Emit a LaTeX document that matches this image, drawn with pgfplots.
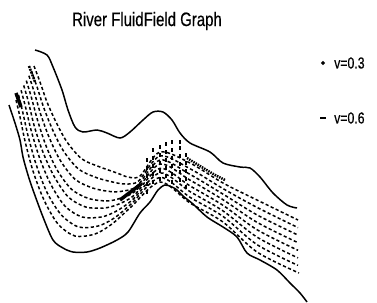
\documentclass[border=0pt]{standalone}
\usepackage{pgfplots}
\pgfplotsset{compat=1.18}
\usepackage{fontspec}
\setmainfont{Liberation Sans}[FakeStretch=0.77, FakeBold=0.4]
\begin{document}
\begin{tikzpicture}
\begin{axis}[
  scale only axis, width=377bp, height=302bp,
  xmin=0, xmax=377, ymin=0, ymax=302, y dir=reverse,
  axis lines=none, clip=false,
  every axis plot/.append style={black, line width=1.5pt},
]
\path (rel axis cs:0,0) rectangle (rel axis cs:1,1);
% banks
\addplot[smooth, tension=0.5] coordinates {(35,50)(47,55)(53,67)(62,90)(68,110)(75,127)(83,132)(97,130)(107,133)(120,138)(130,132)(143,120)(153,112)(163,112)(172,120)(180,133)(190,143)(210,152)(223,163)(240,167)(250,168)(260,177)(273,193)(287,205)(297,208)};
\addplot[smooth, tension=0.5] coordinates {(9,105)(15,123)(20,140)(23,157)(28,175)(33,190)(43,217)(53,240)(63,248)(73,252)(87,252)(100,248)(117,240)(128,232)(140,213)(150,202)(158,190)(165,185)(172,187)(177,190)(183,196)(193,204)(207,217)(223,227)(237,237)(247,253)(260,260)(277,270)(290,283)(300,293)(307,302)};
% streamlines
\pgfplotsset{stream/.style={smooth, tension=0.5, line width=1.5pt, dash pattern=on 3.2pt off 2.4pt}}
\addplot[stream] coordinates {(34,66)(40,82)(47,102)(56,122)(67,142)(82,159)(100,167)(117,173)(128,177)(140,176)(160,152)(190,163)(223,183)(257,200)(298,220)};
\addplot[stream] coordinates {(31.4,70.9)(37.1,87.1)(43.9,108.1)(52.7,130)(63.7,151.3)(78.6,169.1)(96.4,177.6)(113.9,182.3)(125.7,184)(138.6,181)(160,156)(190,168.7)(223,188.6)(257,207.4)(298,227.6)};
\addplot[stream] coordinates {(28.9,75.7)(34.3,92.3)(40.7,114.3)(49.4,138)(60.4,160.6)(75.1,179.3)(92.9,188.1)(110.7,191.6)(123.4,191)(137.1,186)(160,160)(190,174.4)(223,194.1)(257,214.9)(298,235.1)};
\addplot[stream] coordinates {(26.3,80.6)(31.4,97.4)(37.6,120.4)(46.1,146)(57.1,169.9)(71.7,189.4)(89.3,198.7)(107.6,200.9)(121.1,198)(135.7,190.9)(160,164)(190,180.1)(223,199.7)(257,222.3)(298,242.7)};
\addplot[stream] coordinates {(23.7,85.4)(28.6,102.6)(34.4,126.6)(42.9,152)(53.9,176)(68.3,197)(85.7,207)(104.4,208)(118.9,204)(134.3,195.1)(160,168.3)(190,185.9)(223,205.3)(257,229.7)(298,250.3)};
\addplot[stream] coordinates {(21.1,90.3)(25.7,107.7)(31.3,131)(39.6,158)(50.6,184)(64.9,206)(82.1,217)(101.3,217)(116.6,211)(132.9,199.4)(160,172.9)(190,191.6)(223,210.9)(257,237.1)(298,257.9)};
\addplot[stream] coordinates {(18.6,95.1)(22.9,112.9)(28.1,136)(36.3,165)(47.3,193)(61.4,215)(78.6,227)(98.1,226)(114.3,218)(131.4,203.7)(160,177.4)(190,197.3)(223,216.4)(257,244.6)(298,265.4)};
\addplot[stream] coordinates {(16,100)(20,117)(25,141)(33,171)(44,200)(58,224)(75,236)(95,234)(112,224)(130,208)(160,182)(190,203)(223,222)(257,252)(299,273)};
% vertical dashes zone
\addplot[only marks, mark=|, mark size=1.8pt, mark options={line width=1.4pt}] coordinates {
(147,160)(147,168)(147,176)(147,184)(147,192)
(153,150)(153,158)(153,166)(153,174)(153,182)
(160,147)(160,155)(160,163)(160,171)(160,179)
(166,144)(166,152)(166,160)(166,168)(166,176)
(172,142)(172,150)(172,158)(172,166)(172,174)(172,182)
(180,142)(180,148)(180,156)(180,164)(180,172)(180,180)
(186,155)(186,163)(186,171)(186,179)(186,187)};
% dense clusters
\addplot[line width=3.5pt] coordinates {(16,93)(21,107)};
\addplot[line width=2.5pt, dash pattern=on 2pt off 1pt] coordinates {(29,66)(35,82)};
\addplot[line width=3.5pt] coordinates {(120,200)(141,184)};
\addplot[line width=2.5pt, dash pattern=on 1.5pt off 1pt] coordinates {(187,158)(200,166)(215,175)(225,180)};
% legend
\addplot[only marks, mark=*, mark size=1pt] coordinates {(323,63)};
\addplot[line width=1.4pt] coordinates {(320,118)(326,118)};
\node[anchor=west, inner sep=0pt, font=\fontsize{16}{16}\selectfont] at (axis cs:334,63) {v=0.3};
\node[anchor=west, inner sep=0pt, font=\fontsize{16}{16}\selectfont] at (axis cs:334,118) {v=0.6};
% title
\node[inner sep=0pt, font=\fontsize{19.5}{20}\selectfont] at (axis cs:147,21) {River FluidField Graph};
\end{axis}
\end{tikzpicture}
\end{document}
